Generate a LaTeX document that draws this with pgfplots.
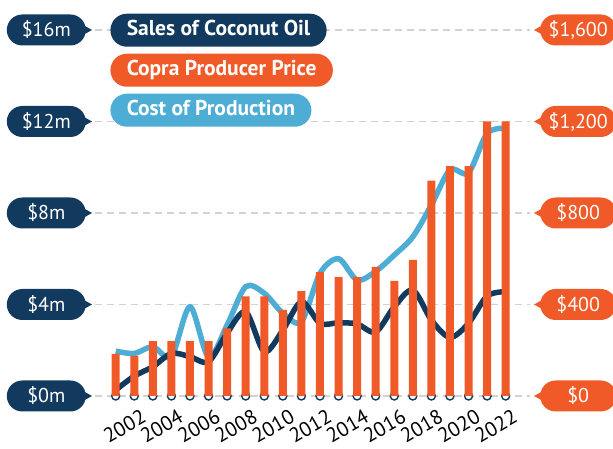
\documentclass[border=0pt]{standalone}
\usepackage{fontspec}
\setmainfont{PT Sans}
\usepackage{pgfplots}
\usepackage{pgfplotstable}
\pgfplotsset{compat=1.18}
\usetikzlibrary{shapes.misc,calc}
\definecolor{Navy}{HTML}{123A5E}
\definecolor{Copra}{HTML}{F05A28}
\definecolor{Sky}{HTML}{4DADD4}
\definecolor{GridGray}{HTML}{D2D2D2}

% sales and cost in $m, price in $ (right axis)
\pgfplotstableread{
year sales cost price base
2001 0.26 1.96 184 0
2002 0.87 1.86 175 0
2003 1.28 2.15 240 0
2004 1.86 1.72 240 0
2005 1.72 3.90 240 0
2006 1.50 1.70 240 0
2007 2.75 3.10 296 0
2008 3.68 4.78 435 0
2009 1.94 4.49 435 0
2010 2.88 3.62 376 0
2011 4.12 3.25 459 0
2012 3.18 5.36 542 0
2013 3.20 6.00 520 0
2014 3.15 5.07 520 0
2015 2.80 5.45 564 0
2016 3.90 6.16 503 0
2017 4.63 6.96 595 0
2018 3.32 8.35 941 0
2019 2.56 9.88 1005 0
2020 3.18 9.76 1005 0
2021 4.37 11.48 1200 0
2022 4.56 11.70 1200 0
}\coco

\tikzset{
  legpill/.style={shape=rounded rectangle, text=white,
    font=\bfseries\fontsize{21.5}{21.5}\selectfont,
    minimum height=33pt, inner xsep=13pt, text height=15.5pt, text depth=4.5pt},
  tagL/.style={shape=rounded rectangle, fill=Navy, text=white,
    font=\fontsize{20}{20}\selectfont, minimum width=79pt, minimum height=31pt,
    inner sep=0pt,
    append after command={\pgfextra{\fill[Navy] ($(\tikzlastnode.east)+(-3pt,5pt)$) -- ++(9pt,-5pt) -- ++(-9pt,-5pt) -- cycle;}}},
  tagR/.style={shape=rounded rectangle, fill=Copra, text=white,
    font=\fontsize{20}{20}\selectfont, minimum width=76pt, minimum height=31pt,
    inner sep=0pt,
    append after command={\pgfextra{\fill[Copra] ($(\tikzlastnode.west)+(3pt,5pt)$) -- ++(-9pt,-5pt) -- ++(9pt,-5pt) -- cycle;}}},
}

\begin{document}
\begin{tikzpicture}
\begin{axis}[
  scale only axis, width=435pt, height=366pt,
  xmin=1999.885, xmax=2023.31, ymin=0, ymax=16,
  axis lines*=left, axis line style={draw=none},
  clip=false,
  major tick length=0pt,
  xtick={2002,2004,...,2022},
  xticklabels={2002,2004,2006,2008,2010,2012,2014,2016,2018,2020,2022},
  xticklabel style={font=\fontsize{20.5}{20.5}\selectfont, rotate=30, anchor=south east, inner sep=0pt, yshift=-29pt, xshift=-1pt},
  ytick={0,4,8,12,16},
  yticklabels={\$0m,\$4m,\$8m,\$12m,\$16m},
  yticklabel style={tagL, anchor=east, xshift=-9pt},
  ymajorgrids, major grid style={GridGray, line width=1.6pt, dash pattern=on 7pt off 5pt},
  legend image code/.code={},
  legend cell align=left,
  legend style={at={(0.035,1.045)}, anchor=north west, draw=none, fill=none,
    row sep=7pt, inner sep=0pt},
]
\addlegendimage{Navy}\addlegendentry[legpill, fill=Navy]{Sales of Coconut Oil}
\addlegendimage{Copra}\addlegendentry[legpill, fill=Copra]{Copra Producer Price}
\addlegendimage{Sky}\addlegendentry[legpill, fill=Sky]{Cost of Production}

\addplot[smooth, Sky, line width=5.5pt, forget plot] table[x=year, y=cost]{\coco};
\addplot[smooth, Navy, line width=5.5pt, forget plot] table[x=year, y=sales]{\coco};
\addplot[only marks, mark=*, mark size=4pt, mark options={draw=Navy, fill=white, line width=1.4pt}, forget plot]
  table[x=year, y=base]{\coco};
\coordinate (bl) at (rel axis cs:0,0);
\coordinate (tr) at (rel axis cs:1,1);
\end{axis}

\begin{axis}[
  scale only axis, width=435pt, height=366pt,
  xmin=1999.885, xmax=2023.31, ymin=0, ymax=1600,
  axis y line*=right, axis x line=none, axis line style={draw=none},
  major tick length=0pt,
  ybar, bar width=8pt,
  ytick={0,400,800,1200,1600},
  yticklabels={\$0,\$400,\$800,{\$1,200},{\$1,600}},
  yticklabel style={tagR, anchor=west, xshift=10pt},
]
\addplot[fill=Copra, draw=none] table[x=year, y=price]{\coco};
\end{axis}

\pgfresetboundingbox
\path ($(bl)+(-95pt,-53pt)$) rectangle ($(tr)+(83pt,30pt)$);
\end{tikzpicture}
\end{document}
